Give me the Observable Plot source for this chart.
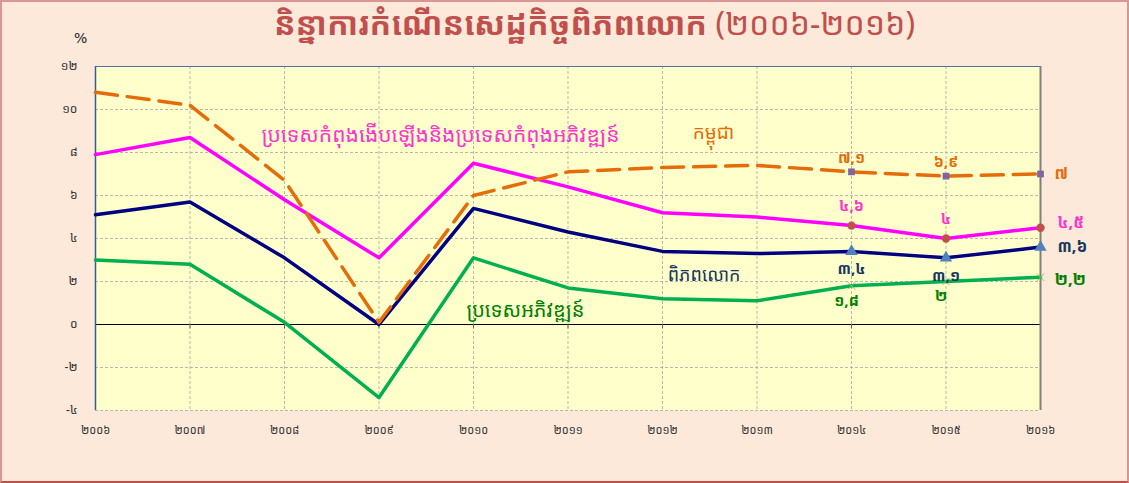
<!DOCTYPE html>
<html>
<head>
<meta charset="utf-8">
<script src="https://cdn.jsdelivr.net/npm/d3@7"></script>
<script src="https://cdn.jsdelivr.net/npm/@observablehq/plot@0.6"></script>
<style>
  html, body { margin: 0; padding: 0; background: #FDE9D9; }
  #wrap { position: relative; width: 1129px; height: 483px; overflow: hidden; background: #FDE9D9;
          font-family: 'Khmer OS', 'Noto Sans Khmer', 'DejaVu Sans', sans-serif; }
  #border { position: absolute; left: 0; top: 0; width: 1129px; height: 483px; box-sizing: border-box;
            border: 2px solid #D99694; border-bottom-color: #C0504D; pointer-events: none; }
  #title { height: 48px; line-height: 46px; text-align: center; padding-left: 60px;
           font-size: 32px; font-weight: bold; color: #C0504D; white-space: nowrap; }
  #title .yr { font-weight: normal; }
  #unit { position: absolute; left: 74px; top: 30px; font-size: 14px; color: #222; font-family: 'DejaVu Sans', sans-serif; }
  svg { display: block; }
</style>
</head>
<body>
<div id="wrap">
  <div id="title">និន្នាការកំណើនសេដ្ឋកិច្ចពិភពលោក <span class="yr">(២០០៦-២០១៦)</span></div>
  <div id="unit">%</div>
  <div id="chart"></div>
  <div id="border"></div>
</div>
<script>
// ---- data ----
const years = [2006, 2007, 2008, 2009, 2010, 2011, 2012, 2013, 2014, 2015, 2016];
const cambodia = [10.8, 10.2, 6.7, 0.1, 6.0, 7.1, 7.3, 7.4, 7.1, 6.9, 7.0];
const emerging = [7.9, 8.7, 5.8, 3.1, 7.5, 6.4, 5.2, 5.0, 4.6, 4.0, 4.5];
const world    = [5.1, 5.7, 3.1, 0.0, 5.4, 4.3, 3.4, 3.3, 3.4, 3.1, 3.6];
const advanced = [3.0, 2.8, 0.1, -3.4, 3.1, 1.7, 1.2, 1.1, 1.8, 2.0, 2.2];
const yTicks = [-4, -2, 0, 2, 4, 6, 8, 10, 12];
const seriesNames = ["កម្ពុជា", "ប្រទេសកំពុងងើបឡើងនិងប្រទេសកំពុងអភិវឌ្ឍន៍", "ពិភពលោក", "ប្រទេសអភិវឌ្ឍន៍"];
const seriesColors = ["#E46C0A", "#FF00FF", "#000080", "#00B050"];
const labelColors = ["#E46C0A", "#FF33CC", "#17375E", "#008000"];
const nameYear = [2012.54, 2009.65, 2012.44, 2010.55];
const nameValue = [8.9, 8.8, 2.3, 0.65];
const nameSize = [19, 21, 18, 20];
const markedYears = [2014, 2015, 2016];

// ---- helpers ----
const khDigits = "០១២៣៤៥៦៧៨៩";
const kh = v => String(v).replace(/[0-9]/g, d => khDigits[+d]).replace(".", ",");

const seriesValues = [cambodia, emerging, world, advanced];
const rows = seriesValues.map((vals, i) => years.map((y, j) => ({year: y, value: vals[j], s: i})));
const marked = rows.map(r => r.filter(d => markedYears.includes(d.year)));
const names = seriesNames.map((n, i) => ({name: n, year: nameYear[i], value: nameValue[i], s: i}));

const mid = s => s.filter(d => d.year < 2016);
const last = s => s.filter(d => d.year === 2016);

const txt = {fontFamily: "'Khmer OS', 'Noto Sans Khmer', 'DejaVu Sans', sans-serif"};
const grid = {stroke: "#A6A6A6", strokeOpacity: 0.8, strokeDasharray: "3,2"};

const plot = Plot.plot({
  width: 1129,
  height: 435,
  marginLeft: 95,
  marginRight: 89,
  marginTop: 18,
  marginBottom: 73,
  style: {background: "transparent", overflow: "visible"},
  x: {domain: [2006, 2016], type: "linear"},
  y: {domain: [-4, 12]},
  marks: [
    Plot.frame({fill: "#FFFFCC", stroke: null}),
    Plot.gridY(yTicks, grid),
    Plot.gridX(years.slice(1, -1), grid),
    Plot.ruleY([12], {stroke: "#4F6FA8", strokeWidth: 1}),
    Plot.ruleY([0], {stroke: "#000", strokeWidth: 1.2}),
    Plot.ruleX(years, {x: d => d, y1: 0, y2: -0.2, stroke: "#666"}),
    Plot.ruleX([2006], {stroke: "#365F91", strokeWidth: 1.5}),
    Plot.ruleX([2016], {stroke: "#808080", strokeWidth: 2}),
    Plot.axisY({ticks: yTicks, tickFormat: kh, tickSize: 0, tickPadding: 18, fontSize: 12, label: null, fill: "#333", ...txt}),
    Plot.axisX({ticks: years, tickFormat: kh, tickSize: 0, tickPadding: 16, fontSize: 11, label: null, fill: "#333", ...txt}),
    // lines
    Plot.line(rows[3], {x: "year", y: "value", stroke: seriesColors[3], strokeWidth: 3.5}),
    Plot.line(rows[2], {x: "year", y: "value", stroke: seriesColors[2], strokeWidth: 3.5}),
    Plot.line(rows[1], {x: "year", y: "value", stroke: seriesColors[1], strokeWidth: 3.5}),
    Plot.line(rows[0], {x: "year", y: "value", stroke: seriesColors[0], strokeWidth: 3.5, strokeDasharray: "22,10"}),
    // markers
    Plot.dot(marked[0], {x: "year", y: "value", symbol: "square", r: 3.8, fill: "#8064A2"}),
    Plot.dot(marked[1], {x: "year", y: "value", symbol: "circle", r: 4.2, fill: "#C0504D"}),
    Plot.dot(marked[2], {x: "year", y: "value", symbol: "triangle", r: 4.6, fill: "#4F81BD"}),
    Plot.dot(marked[3], {x: "year", y: "value", symbol: "times", r: 3.5, stroke: "#9BBB59", strokeWidth: 1}),
    // value labels 2014-2015
    Plot.text(mid(marked[0]), {x: "year", y: "value", text: d => kh(d.value), dy: -14, fill: labelColors[0], fontSize: 15, fontWeight: "bold", ...txt}),
    Plot.text(mid(marked[1]), {x: "year", y: "value", text: d => kh(d.value), dy: -19, fill: labelColors[1], fontSize: 15, fontWeight: "bold", ...txt}),
    Plot.text(mid(marked[2]), {x: "year", y: "value", text: d => kh(d.value), dy: 18, fill: labelColors[2], fontSize: 15, fontWeight: "bold", ...txt}),
    Plot.text(mid(marked[3]), {x: "year", y: "value", text: d => kh(d.value), dy: 15, dx: -5, fill: labelColors[3], fontSize: 15, fontWeight: "bold", ...txt}),
    // value labels 2016 (right side)
    Plot.text(last(marked[0]), {x: "year", y: "value", text: d => kh(d.value), dx: 14, textAnchor: "start", fill: labelColors[0], fontSize: 16, fontWeight: "bold", ...txt}),
    Plot.text(last(marked[1]), {x: "year", y: "value", text: d => kh(d.value), dx: 17, dy: -5, textAnchor: "start", fill: labelColors[1], fontSize: 16, fontWeight: "bold", ...txt}),
    Plot.text(last(marked[2]), {x: "year", y: "value", text: d => kh(d.value), dx: 17, textAnchor: "start", fill: labelColors[2], fontSize: 16, fontWeight: "bold", ...txt}),
    Plot.text(last(marked[3]), {x: "year", y: "value", text: d => kh(d.value), dx: 14, dy: 3, textAnchor: "start", fill: labelColors[3], fontSize: 16, fontWeight: "bold", ...txt}),
    // series names
    Plot.text(names, {x: "year", y: "value", text: "name", fill: d => labelColors[d.s], fontSize: d => nameSize[d.s], ...txt})
  ]
});
document.getElementById("chart").appendChild(plot);
</script>
</body>
</html>
